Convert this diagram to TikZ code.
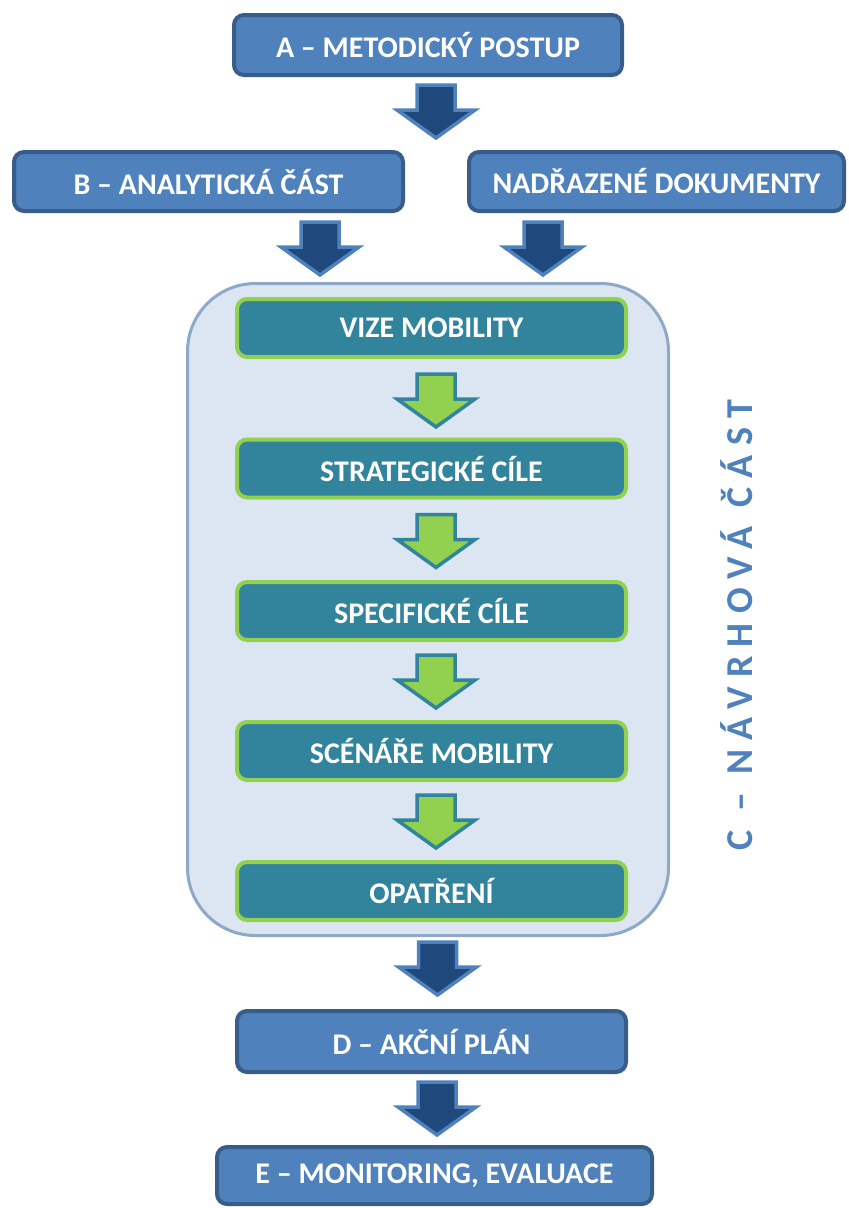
\documentclass[tikz,border=0pt]{standalone}
\usepackage{fontspec}
\setmainfont{Carlito}
\usetikzlibrary{calc}
\definecolor{boxblue}{HTML}{4F81BD}
\definecolor{boxedge}{HTML}{385D8A}
\definecolor{arrowblue}{HTML}{1F497D}
\definecolor{teal}{HTML}{31849B}
\definecolor{lime}{HTML}{92D050}
\definecolor{panel}{HTML}{DCE6F2}
\definecolor{paneledge}{HTML}{8EA8C8}

\tikzset{
  stage/.style={draw=boxedge, fill=boxblue, line width=4, rounded corners=10,
    text=white, font=\bfseries\fontsize{30}{36}\selectfont, inner sep=0},
  step box/.style={draw=lime, fill=teal, line width=4, rounded corners=10,
    text=white, font=\bfseries\fontsize{30}{36}\selectfont, inner sep=0,
    minimum width=389, minimum height=58},
  blockblue/.style={draw=boxblue, fill=arrowblue, line width=3.5},
  blockgreen/.style={draw=teal, fill=lime, line width=3.5}
}
\newcommand{\flowarrow}[2][blockblue]{%
  \draw[#1] #2 ++(-19,0) -- ++(38,0) -- ++(0,25) -- ++(20,0) -- ++(-39,28)
    -- ++(-39,-28) -- ++(20,0) -- cycle;}

\begin{document}
\begin{tikzpicture}[x=1pt, y=-1pt]
\useasboundingbox (0,0) rectangle (849,1208);

\node[stage, minimum width=388, minimum height=60] (a) at (428,45) {A – METODICKÝ POSTUP};
\node[stage, minimum width=389, minimum height=59] (b) at (208.5,181.5) {B – ANALYTICKÁ ČÁST};
\node[stage, minimum width=375, minimum height=59] (n) at (656.5,181.5) {NADŘAZENÉ DOKUMENTY};

\draw[draw=paneledge, fill=panel, line width=3, rounded corners=68]
  (187.5,283.5) rectangle (668.5,935.5) coordinate (panel);

\node[step box] (vize) at (431.5,328) {VIZE MOBILITY};
\node[step box] (strat) at (431.5,468.5) {STRATEGICKÉ CÍLE};
\node[step box] (spec) at (431.5,611) {SPECIFICKÉ CÍLE};
\node[step box] (scen) at (431.5,751) {SCÉNÁŘE MOBILITY};
\node[step box] (opat) at (431.5,891) {OPATŘENÍ};

\node[text=boxblue, rotate=90, inner sep=0,
  font=\bfseries\fontsize{38}{40}\selectfont\addfontfeature{LetterSpace=25}]
  (navrh) at (737,625) {C – NÁVRHOVÁ ČÁST};

\node[stage, minimum width=389, minimum height=61] (d) at (431.5,1041.5) {D – AKČNÍ PLÁN};
\node[stage, minimum width=435, minimum height=57] (e) at (434.5,1175.5) {E – MONITORING, EVALUACE};

\flowarrow{($(a.south)+(8,8)$)}
\flowarrow{($(b.south east)+(-85,9)$)}
\flowarrow{($(n.south west)+(76,9)$)}
\flowarrow[blockgreen]{($(vize.south)+(4.5,15)$)}
\flowarrow[blockgreen]{($(strat.south)+(4.5,15)$)}
\flowarrow[blockgreen]{($(spec.south)+(4.5,13)$)}
\flowarrow[blockgreen]{($(scen.south)+(4.5,13)$)}
\flowarrow{($(opat.south)+(6,20)$)}
\flowarrow{($(d.south)+(5.5,8)$)}

\end{tikzpicture}
\end{document}
